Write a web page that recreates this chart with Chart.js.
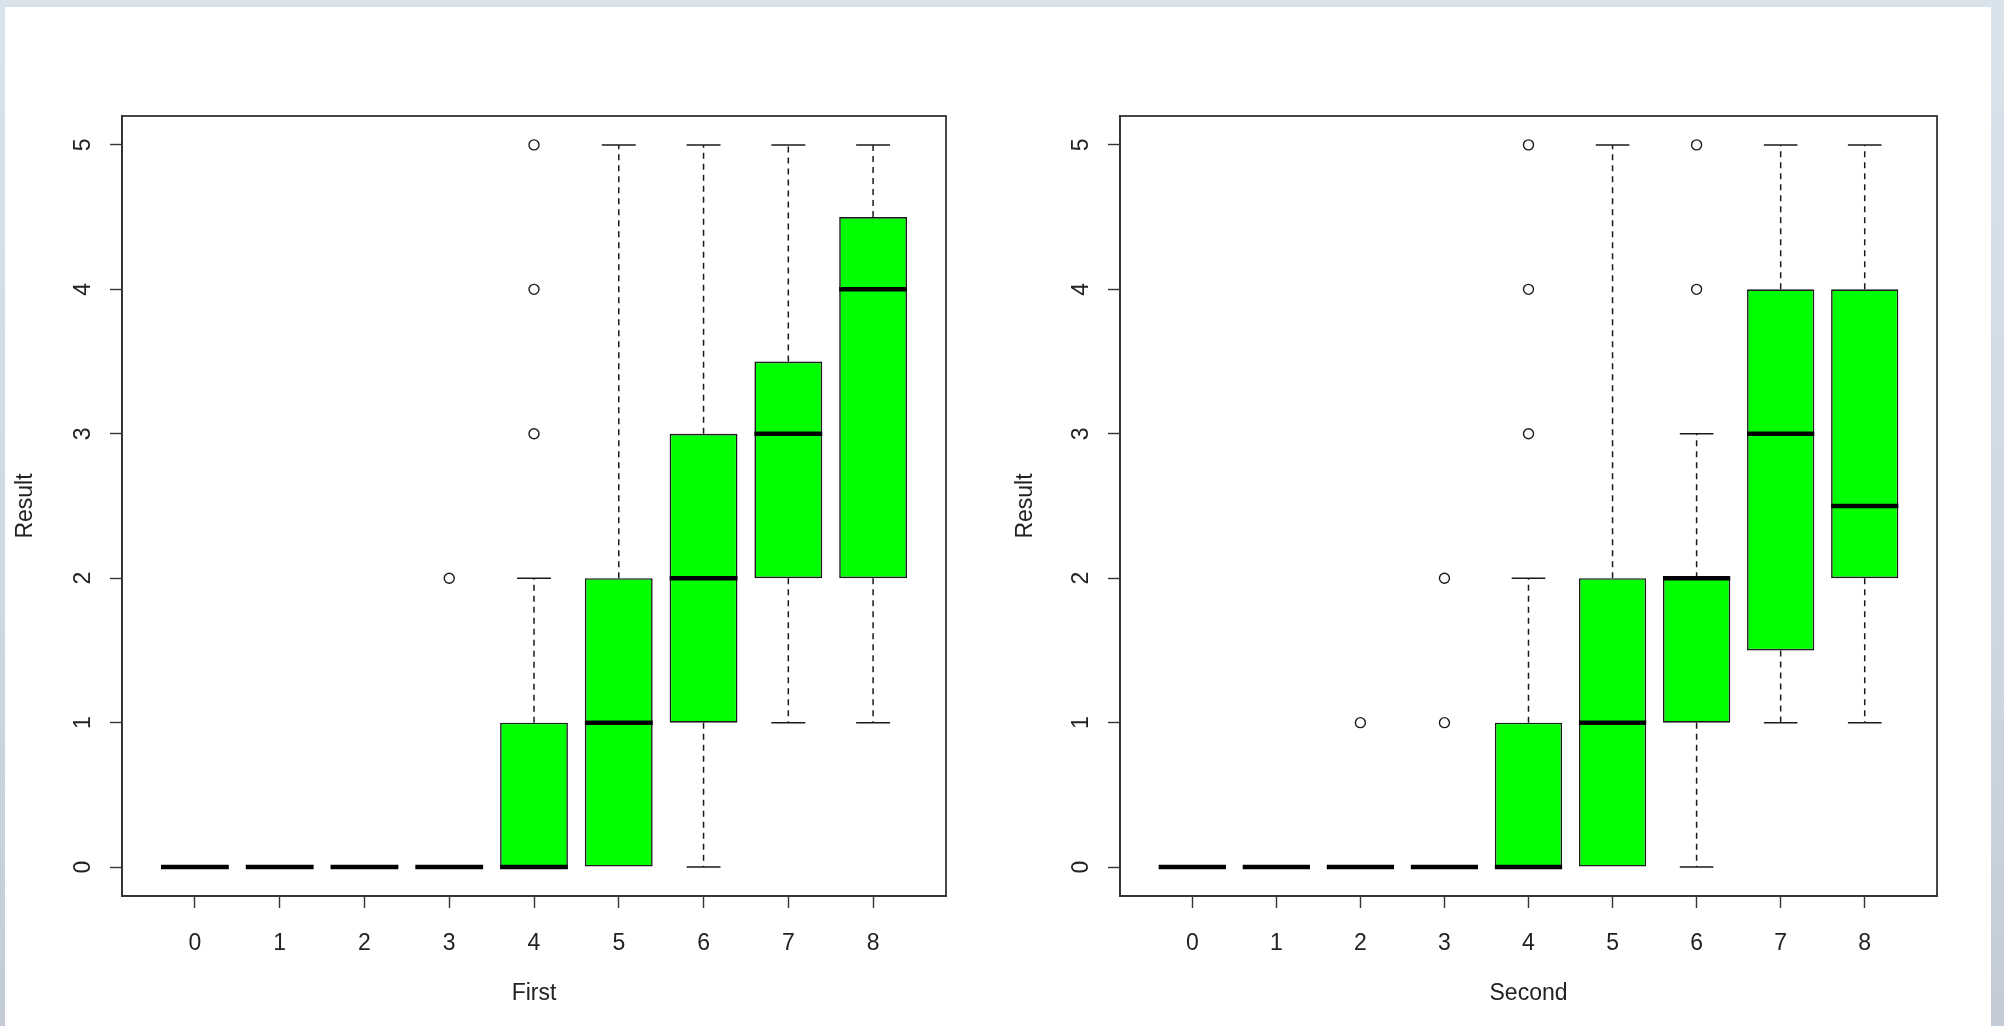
<!DOCTYPE html>
<html>
<head>
<meta charset="utf-8">
<title>Result by First / Second</title>
<script src="https://cdn.jsdelivr.net/npm/chart.js@4"></script>
<style>
  html, body { margin: 0; padding: 0; }
  body {
    width: 2004px; height: 1026px; overflow: hidden; position: relative;
    background: linear-gradient(180deg, #d9e3ec 0%, #cdd8e3 60%, #c3ccd6 100%);
  }
  #sheet { position: absolute; left: 5px; top: 7px; width: 1986px; height: 1019px; background: #fff; }
  canvas { position: absolute; top: 0; }
  #c1 { left: 0; }
  #c2 { left: 1000px; }
</style>
</head>
<body>
<div id="sheet"></div>
<canvas id="c1" width="1000" height="1026"></canvas>
<canvas id="c2" width="1004" height="1026"></canvas>
<script>
// カテゴリと目盛り
const categories = ["0", "1", "2", "3", "4", "5", "6", "7", "8"];
const yTicks = [0, 1, 2, 3, 4, 5];

// First：箱ひげの統計量
const firstLow  = [0, 0, 0, 0, 0, 0, 0, 1, 1];
const firstQ1   = [0, 0, 0, 0, 0, 0, 1, 2, 2];
const firstMed  = [0, 0, 0, 0, 0, 1, 2, 3, 4];
const firstQ3   = [0, 0, 0, 0, 1, 2, 3, 3.5, 4.5];
const firstHigh = [0, 0, 0, 0, 2, 5, 5, 5, 5];
const firstOut  = [[], [], [], [2], [3, 4, 5], [], [], [], []];

// Second
const secondLow  = [0, 0, 0, 0, 0, 0, 0, 1, 1];
const secondQ1   = [0, 0, 0, 0, 0, 0, 1, 1.5, 2];
const secondMed  = [0, 0, 0, 0, 0, 1, 2, 3, 2.5];
const secondQ3   = [0, 0, 0, 0, 1, 2, 2, 4, 4];
const secondHigh = [0, 0, 0, 0, 2, 5, 3, 5, 5];
const secondOut  = [[], [], [1], [1, 2], [3, 4, 5], [], [4, 5], [], []];

const FONT = { family: "'Liberation Sans', Arial, sans-serif", size: 23 };
const INK = "#1a1a1a";
const BOX_W = 0.8;    // R の boxwex
const STAPLE_W = 0.4; // ひげ端の横線

// ひげ・中央値・枠線を描くプラグイン
const boxExtras = {
  id: "boxExtras",
  afterDatasetsDraw(chart, args, opts) {
    const { ctx, chartArea: a, scales: { x, y } } = chart;
    const s = opts.stats;
    if (!s) return;
    const seg = (x1, y1, x2, y2) => { ctx.beginPath(); ctx.moveTo(x1, y1); ctx.lineTo(x2, y2); ctx.stroke(); };
    ctx.save();
    ctx.strokeStyle = INK;
    ctx.lineCap = "butt";
    s.q1.forEach((q1, i) => {
      const cx = x.getPixelForValue(i);
      const hb = x.getPixelForValue(i + BOX_W / 2) - cx;
      const hs = x.getPixelForValue(i + STAPLE_W / 2) - cx;
      ctx.lineWidth = 1.5;
      // 上ひげ（破線）＋端
      if (s.high[i] > s.q3[i]) {
        ctx.setLineDash([6, 5]);
        seg(cx, y.getPixelForValue(s.q3[i]), cx, y.getPixelForValue(s.high[i]));
        ctx.setLineDash([]);
        seg(cx - hs, y.getPixelForValue(s.high[i]), cx + hs, y.getPixelForValue(s.high[i]));
      }
      // 下ひげ
      if (s.low[i] < q1) {
        ctx.setLineDash([6, 5]);
        seg(cx, y.getPixelForValue(q1), cx, y.getPixelForValue(s.low[i]));
        ctx.setLineDash([]);
        seg(cx - hs, y.getPixelForValue(s.low[i]), cx + hs, y.getPixelForValue(s.low[i]));
      }
      // 中央値
      ctx.lineWidth = 4.5;
      ctx.strokeStyle = "#000";
      seg(cx - hb, y.getPixelForValue(s.med[i]), cx + hb, y.getPixelForValue(s.med[i]));
      ctx.strokeStyle = INK;
    });
    // 外枠
    ctx.lineWidth = 1.8;
    ctx.strokeStyle = "#333";
    ctx.strokeRect(a.left, a.top, a.right - a.left, a.bottom - a.top);
    ctx.restore();
  }
};

function makeChart(id, xTitle, stats, pad, yAxisW) {
  const boxes = stats.q1.map((q1, i) => ({ x: i, y: [q1, stats.q3[i]] }));
  const outliers = [];
  stats.out.forEach((list, i) => list.forEach(v => outliers.push({ x: i, y: v })));

  return new Chart(document.getElementById(id), {
    type: "bar",
    data: {
      datasets: [
        {
          type: "bar",
          data: boxes,
          backgroundColor: "#00ff00",
          borderColor: INK,
          borderWidth: 1.6,
          borderSkipped: false,
          barPercentage: BOX_W,
          categoryPercentage: 1.0
        },
        {
          type: "scatter",
          data: outliers,
          pointStyle: "circle",
          pointRadius: 5,
          borderColor: INK,
          borderWidth: 1.4,
          backgroundColor: "rgba(0,0,0,0)"
        }
      ]
    },
    options: {
      animation: false,
      responsive: false,
      devicePixelRatio: 1,
      layout: { padding: { top: 116, right: pad, bottom: 0, left: 0 } },
      plugins: {
        legend: { display: false },
        tooltip: { enabled: false },
        boxExtras: { stats }
      },
      scales: {
        x: {
          type: "linear",
          min: -0.86,
          max: 8.86,
          offset: false,
          afterBuildTicks: sc => { sc.ticks = categories.map((c, i) => ({ value: i })); },
          afterFit: sc => { sc.height = 130; },
          grid: { offset: false, drawOnChartArea: false, drawTicks: true, tickLength: 12, tickColor: "#333", tickWidth: 1.4 },
          border: { display: true, color: "#333", width: 1.8 },
          ticks: { autoSkip: false, maxRotation: 0, padding: 22, color: "#222", font: FONT,
                   callback: v => categories[v] },
          title: { display: true, text: xTitle, color: "#222", font: FONT, padding: { top: 0, bottom: 19 } }
        },
        y: {
          type: "linear",
          min: -0.2,
          max: 5.2,
          afterBuildTicks: sc => { sc.ticks = yTicks.map(v => ({ value: v })); },
          afterFit: sc => { sc.width = yAxisW; },
          grid: { drawOnChartArea: false, drawTicks: true, tickLength: 12, tickColor: "#333", tickWidth: 1.4 },
          border: { display: true, color: "#333", width: 1.8 },
          ticks: { autoSkip: false, minRotation: 90, maxRotation: 90, crossAlign: "center",
                   padding: 20, color: "#222", font: FONT },
          title: { display: true, text: "Result", color: "#222", font: FONT, padding: { top: 12, bottom: 0 } }
        }
      }
    },
    plugins: [boxExtras]
  });
}

makeChart("c1", "First",
  { low: firstLow, q1: firstQ1, med: firstMed, q3: firstQ3, high: firstHigh, out: firstOut }, 54, 122);
makeChart("c2", "Second",
  { low: secondLow, q1: secondQ1, med: secondMed, q3: secondQ3, high: secondHigh, out: secondOut }, 67, 120);
</script>
</body>
</html>
